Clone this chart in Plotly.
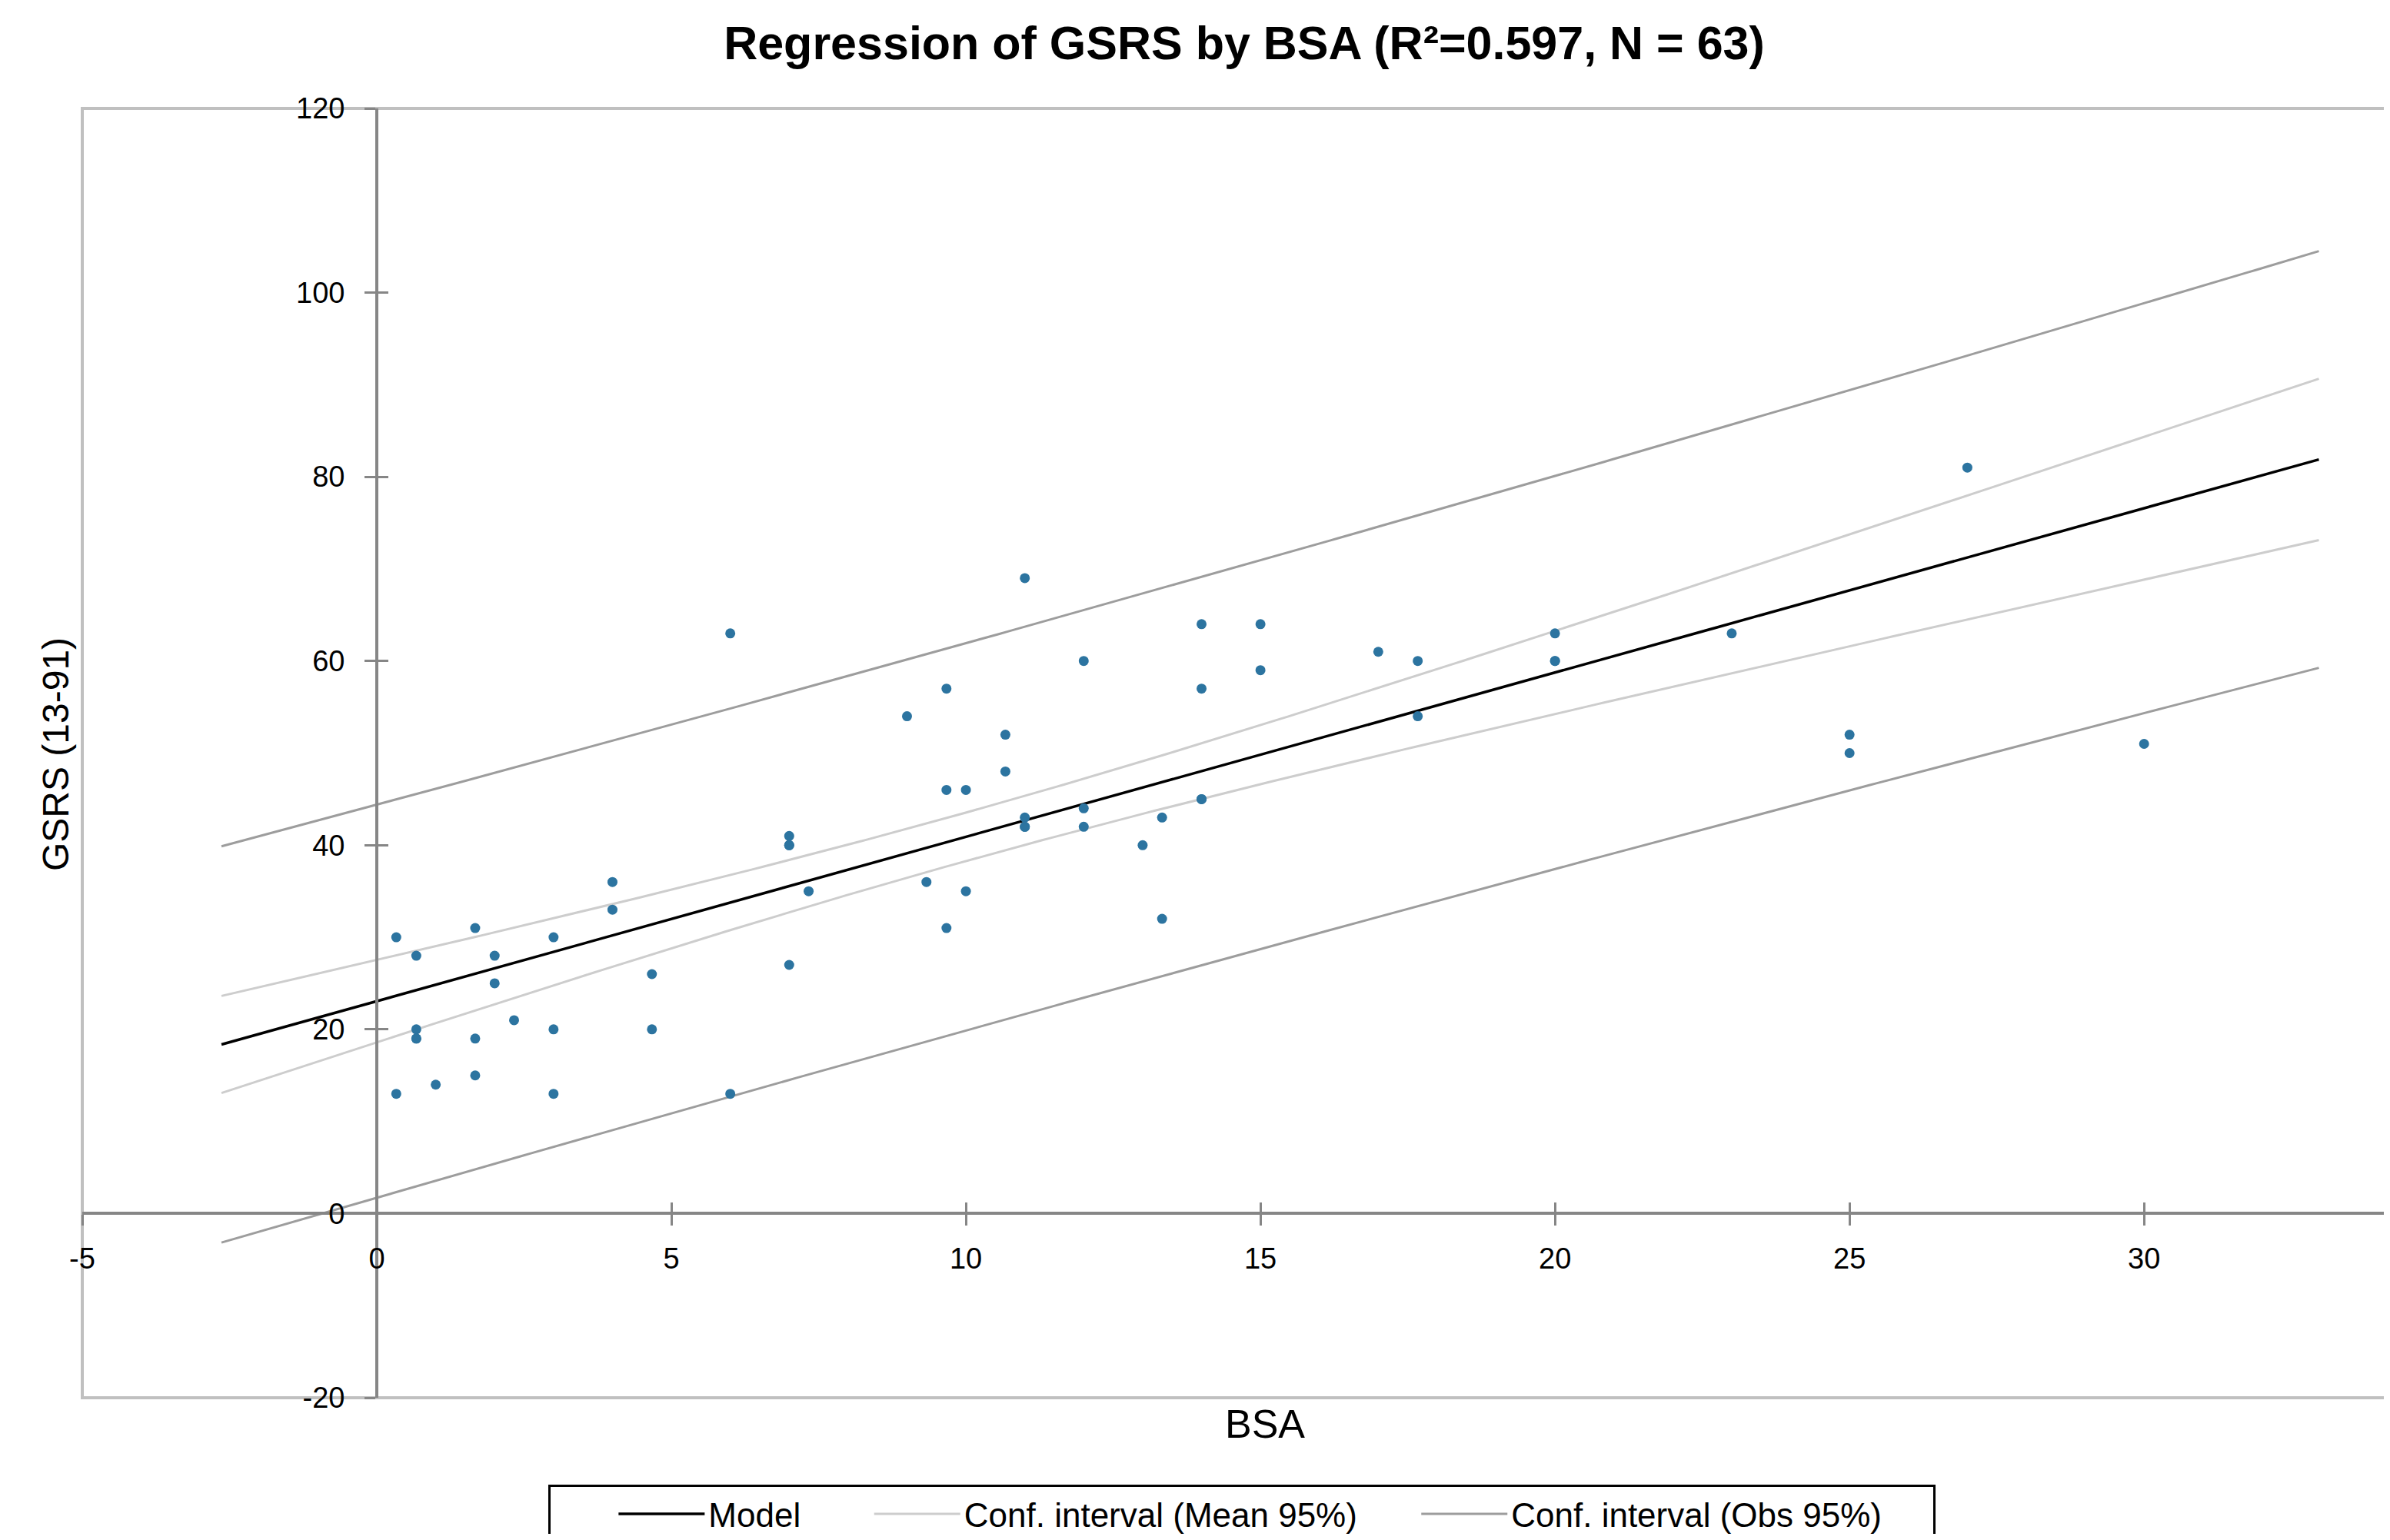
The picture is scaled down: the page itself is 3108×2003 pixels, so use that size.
import numpy as np
import plotly.graph_objects as go

# ---------------- data ----------------
bsa = [0.33, 0.33, 0.67, 0.67, 0.67, 0.67, 1, 1.67, 1.67, 1.67, 2, 2, 2.33, 3, 3, 3,
       4, 4, 4.67, 4.67, 6, 6, 7, 7, 7, 7, 7.33, 9, 9.33, 9.67, 9.67, 9.67, 10, 10,
       10.67, 10.67, 11, 11, 11, 11, 12, 12, 12, 13, 13.33, 13.33, 14, 14, 14, 14,
       15, 15, 17, 17.67, 17.67, 20, 20, 20, 23, 25, 25, 27, 30]
gsrs = [30, 13, 28, 20, 19, 19, 14, 31, 19, 15, 28, 25, 21, 30, 20, 13,
        36, 33, 26, 20, 63, 13, 41, 40, 40, 27, 35, 54, 36, 57, 46, 31, 46, 35,
        52, 48, 69, 43, 42, 42, 60, 44, 42, 40, 43, 32, 64, 57, 45, 45,
        64, 59, 61, 60, 54, 63, 60, 60, 63, 52, 50, 81, 51]

title_text = "Regression of GSRS by BSA (R²=0.597, N = 63)"
x_title = "BSA"
y_title = "GSRS (13-91)"
x_tickvals = [-5, 0, 5, 10, 15, 20, 25, 30]
x_ticktext = ["-5", "0", "5", "10", "15", "20", "25", "30"]
y_tickvals = [-20, 0, 20, 40, 60, 80, 100, 120]
y_ticktext = ["-20", "0", "20", "40", "60", "80", "100", "120"]
legend_names = ["Model", "Conf. interval (Mean 95%)", "Conf. interval (Obs 95%)"]
T_975 = 1.9996  # Student t quantile (0.975, df = N - 2)

X_RANGE = [-5, 34.07]
Y_RANGE = [-20, 120]

# ---------------- regression computed from the data ----------------
x = np.array(bsa, dtype=float)
y = np.array(gsrs, dtype=float)
n = len(x)
xm, ym = x.mean(), y.mean()
sxx = ((x - xm) ** 2).sum()
slope = ((x - xm) * (y - ym)).sum() / sxx
intercept = ym - slope * xm
resid = y - (intercept + slope * x)
s = np.sqrt((resid ** 2).sum() / (n - 2))
span = x.max() - x.min()
xs = np.linspace(x.min() - 0.1 * span, x.max() + 0.1 * span, 300)
fit = intercept + slope * xs
se_mean = s * np.sqrt(1.0 / n + (xs - xm) ** 2 / sxx)
se_obs = s * np.sqrt(1.0 + 1.0 / n + (xs - xm) ** 2 / sxx)

FONT = "Liberation Sans, Arial, sans-serif"
AXIS_GRAY = "#868686"
MEAN_GRAY = "#cdcdcd"
OBS_GRAY = "#9d9d9d"
NB = "\u00a0"

W, H = 3092, 1987          # page body adds an 8 px margin on each side
ML, MT, MB = 99, 133, 177
PW, PH = W - ML, H - MT - MB

fig = go.Figure()

# Obs CI
fig.add_trace(go.Scatter(x=xs, y=fit + T_975 * se_obs, mode="lines",
                         line=dict(color=OBS_GRAY, width=3), name=legend_names[2] + NB * 5,
                         legendgroup="obs", legendrank=3, hoverinfo="skip"))
fig.add_trace(go.Scatter(x=xs, y=fit - T_975 * se_obs, mode="lines",
                         line=dict(color=OBS_GRAY, width=3), name=legend_names[2],
                         legendgroup="obs", showlegend=False, hoverinfo="skip"))
# Mean CI
fig.add_trace(go.Scatter(x=xs, y=fit + T_975 * se_mean, mode="lines",
                         line=dict(color=MEAN_GRAY, width=3), name=legend_names[1] + NB * 6,
                         legendgroup="mean", legendrank=2, hoverinfo="skip"))
fig.add_trace(go.Scatter(x=xs, y=fit - T_975 * se_mean, mode="lines",
                         line=dict(color=MEAN_GRAY, width=3), name=legend_names[1],
                         legendgroup="mean", showlegend=False, hoverinfo="skip"))
# Model
fig.add_trace(go.Scatter(x=xs, y=fit, mode="lines",
                         line=dict(color="#000000", width=3.5), name=legend_names[0] + NB * 7,
                         legendrank=1, hoverinfo="skip"))
# Observations
fig.add_trace(go.Scatter(x=bsa, y=gsrs, mode="markers",
                         marker=dict(color="#2c74a0", size=13, symbol="circle"),
                         name="Data", showlegend=False))
# dummy trace to create the overlay axes (inner half of crossing ticks)
fig.add_trace(go.Scatter(x=[None], y=[None], xaxis="x2", yaxis="y2",
                         showlegend=False, hoverinfo="skip"))

xpos = (0 - Y_RANGE[0]) / (Y_RANGE[1] - Y_RANGE[0])
ypos = (0 - X_RANGE[0]) / (X_RANGE[1] - X_RANGE[0])

tick_font = dict(family=FONT, size=38, color="#000000")
common_x = dict(range=X_RANGE, anchor="free", position=xpos, tickvals=x_tickvals,
                ticktext=x_ticktext, showgrid=False, zeroline=False, tickwidth=3,
                ticklen=14, tickcolor=AXIS_GRAY)
common_y = dict(range=Y_RANGE, anchor="free", position=ypos, tickvals=y_tickvals,
                ticktext=y_ticktext, showgrid=False, zeroline=False, tickwidth=3,
                ticklen=14, tickcolor=AXIS_GRAY)

fig.update_layout(
    width=W, height=H,
    margin=dict(l=ML, r=0, t=MT, b=MB, autoexpand=False),
    paper_bgcolor="white", plot_bgcolor="white",
    font=dict(family=FONT, color="#000000"),
    title=dict(text="<b>" + title_text + "</b>", x=1610 / W, xanchor="center",
               xref="container", y=1 - 48 / H, yref="container", yanchor="middle",
               font=dict(family=FONT, size=61, color="#000000")),
    xaxis=dict(**common_x, showline=True, linecolor=AXIS_GRAY, linewidth=4,
               ticks="outside", tickfont=tick_font, ticklabelstandoff=10),
    yaxis=dict(**common_y, showline=True, linecolor=AXIS_GRAY, linewidth=4,
               ticks="outside", tickfont=tick_font, ticklabelstandoff=18),
    xaxis2=dict(**common_x, overlaying="x", showline=False, ticks="inside",
                showticklabels=False),
    yaxis2=dict(**common_y, overlaying="y", showline=False, ticks="inside",
                showticklabels=False),
    legend=dict(orientation="h", xref="container", x=1607 / W, xanchor="center",
                yref="container", y=1 - 1923 / H, yanchor="top",
                bordercolor="#000000", borderwidth=3, bgcolor="white",
                font=dict(family=FONT, size=44, color="#000000"),
                title=dict(text=NB * 6, font=dict(family=FONT, size=44)),
                itemwidth=112, traceorder="normal"),
    showlegend=True,
    shapes=[dict(type="rect", xref="paper", yref="paper", x0=0, x1=1.05, y0=0, y1=1,
                 line=dict(color="#c0c0c0", width=4), layer="below")],
    annotations=[
        dict(text=y_title, xref="paper", yref="paper", x=(65 - ML) / PW,
             y=(MT + PH - 973) / PH, xanchor="center", yanchor="middle",
             textangle=-90, showarrow=False,
             font=dict(family=FONT, size=48, color="#000000")),
        dict(text=x_title, xref="paper", yref="paper", x=(1637 - ML) / PW,
             y=(MT + PH - 1844) / PH, xanchor="center", yanchor="middle",
             showarrow=False, font=dict(family=FONT, size=52, color="#000000")),
    ],
)

fig.write_html("out.html")
